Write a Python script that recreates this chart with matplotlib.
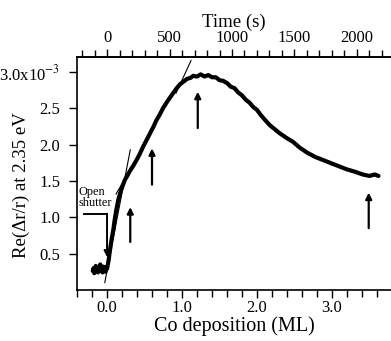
import matplotlib
matplotlib.use("Agg")
import matplotlib.pyplot as plt
from matplotlib.ticker import MultipleLocator

plt.rcParams['font.family'] = ['Liberation Serif', 'DejaVu Serif']
plt.rcParams['mathtext.fontset'] = 'stix'

# ---- data (Re(dr/r) in units of 1e-3 vs Co deposition in ML) ----
ml = [-0.19, -0.18, -0.17, -0.16, -0.15, -0.14, -0.13, -0.12, -0.11, -0.10,
      -0.09, -0.08, -0.07, -0.06, -0.05, -0.04, -0.03, -0.02, -0.01, 0.00,
      0.02, 0.04, 0.06, 0.084, 0.10, 0.12, 0.15, 0.18, 0.21, 0.24, 0.27, 0.30,
      0.35, 0.40, 0.44, 0.48, 0.52, 0.57, 0.62, 0.66, 0.70, 0.75, 0.80, 0.84,
      0.88, 0.93, 0.97, 1.02, 1.07, 1.11, 1.15, 1.20, 1.25, 1.30, 1.35, 1.40,
      1.45, 1.50, 1.55, 1.60, 1.65, 1.70, 1.75, 1.80, 1.85, 1.90, 1.95, 2.00,
      2.05, 2.10, 2.17, 2.23, 2.30, 2.40, 2.48, 2.57, 2.67, 2.78, 2.88, 3.00,
      3.10, 3.20, 3.30, 3.41, 3.50, 3.57, 3.62]
signal = [0.26, 0.30, 0.23, 0.28, 0.33, 0.25, 0.29, 0.24, 0.31, 0.27,
          0.35, 0.26, 0.30, 0.24, 0.32, 0.27, 0.29, 0.25, 0.31, 0.29,
          0.40, 0.55, 0.69, 0.83, 0.95, 1.08, 1.24, 1.35, 1.44, 1.52, 1.57, 1.63,
          1.71, 1.80, 1.88, 1.97, 2.05, 2.15, 2.25, 2.34, 2.41, 2.51, 2.59, 2.65,
          2.71, 2.78, 2.83, 2.87, 2.91, 2.92, 2.95, 2.94, 2.97, 2.94, 2.96, 2.93,
          2.93, 2.89, 2.88, 2.85, 2.80, 2.78, 2.72, 2.68, 2.62, 2.58, 2.52, 2.48,
          2.41, 2.35, 2.27, 2.22, 2.16, 2.09, 2.04, 1.96, 1.89, 1.83, 1.79, 1.74,
          1.70, 1.66, 1.63, 1.59, 1.57, 1.59, 1.57]

# guide (tangent) lines: (x0, x1), (y0, y1)
tangent_x = [(-0.03, 0.31), (0.12, 0.55), (0.92, 1.12)]
tangent_y = [(0.10, 1.93), (1.32, 2.08), (2.71, 3.16)]

# upward arrows: x position, tail y, tip y
arrow_x = [0.31, 0.60, 1.21, 3.49]
arrow_tail = [0.66, 1.45, 2.23, 0.85]
arrow_tip = [1.14, 1.95, 2.73, 1.34]

# open shutter marker
shutter_x = [-0.31, 0.0]
shutter_y = [1.05, 0.45]

ml_ticks = [0.0, 1.0, 2.0, 3.0]
ml_ticklabels = ['0.0', '1.0', '2.0', '3.0']
y_ticks = [0.5, 1.0, 1.5, 2.0, 2.5, 3.0]
y_ticklabels = ['0.5', '1.0', '1.5', '2.0', '2.5', '3.0x10$^{-3}$']
time_ticks = [0, 500, 1000, 1500, 2000]
sec_per_ml = 600.0

fig = plt.figure(figsize=(3.91, 3.41), dpi=100)
ax = fig.add_axes([0.197, 0.150, 0.803, 0.683])

ax.plot(ml, signal, color='black', lw=3.0, solid_joinstyle='round',
        solid_capstyle='round')
for (x0, x1), (y0, y1) in zip(tangent_x, tangent_y):
    ax.plot([x0, x1], [y0, y1], color='black', lw=0.8)
for x, t0, t1 in zip(arrow_x, arrow_tail, arrow_tip):
    ax.annotate('', xy=(x, t1), xytext=(x, t0),
                arrowprops=dict(arrowstyle='-|>', color='black', lw=1.6,
                                mutation_scale=9, shrinkA=0, shrinkB=0))
# open shutter bracket arrow
ax.plot([shutter_x[0], shutter_x[1]], [shutter_y[0], shutter_y[0]], color='black', lw=1.4)
ax.annotate('', xy=(shutter_x[1], shutter_y[1]), xytext=(shutter_x[1], shutter_y[0]),
            arrowprops=dict(arrowstyle='-|>', color='black', lw=1.4,
                            mutation_scale=9, shrinkA=0, shrinkB=0))
ax.text(-0.385, 1.11, 'Open\nshutter', fontsize=8.8, ha='left', va='bottom',
        linespacing=0.95)

ax.set_xlim(-0.40, 3.787)
ax.set_ylim(0.0, 3.21)

ax.set_xticks(ml_ticks)
ax.set_xticklabels(ml_ticklabels)
ax.xaxis.set_minor_locator(MultipleLocator(0.2))
ax.set_yticks(y_ticks)
ax.set_yticklabels(y_ticklabels)

ax.tick_params(axis='x', which='major', direction='out', length=6, width=1,
               labelsize=12, pad=1.5)
ax.tick_params(axis='y', which='major', direction='out', length=6, width=1,
               labelsize=12, pad=6)
ax.tick_params(axis='x', which='minor', direction='out', length=5, width=1)
ax.spines['right'].set_visible(False)
for s in ['left', 'bottom', 'top']:
    ax.spines[s].set_linewidth(1.2)

ax.set_xlabel('Co deposition (ML)', fontsize=14.5, labelpad=0)
ax.set_ylabel('Re(Δr/r) at 2.35 eV', fontsize=13.5)
ax.yaxis.set_label_coords(-0.15, 0.45)

top = ax.secondary_xaxis('top', functions=(lambda m: m * sec_per_ml,
                                           lambda t: t / sec_per_ml))
top.set_xticks(time_ticks)
top.xaxis.set_minor_locator(MultipleLocator(100))
top.tick_params(axis='x', which='major', direction='out', length=6, width=1,
                labelsize=12, pad=2)
top.tick_params(axis='x', which='minor', direction='out', length=5, width=1)
top.spines['top'].set_linewidth(1.2)
top.set_xlabel('Time (s)', fontsize=13.5, labelpad=2)

fig.savefig('out.png', dpi=100)
